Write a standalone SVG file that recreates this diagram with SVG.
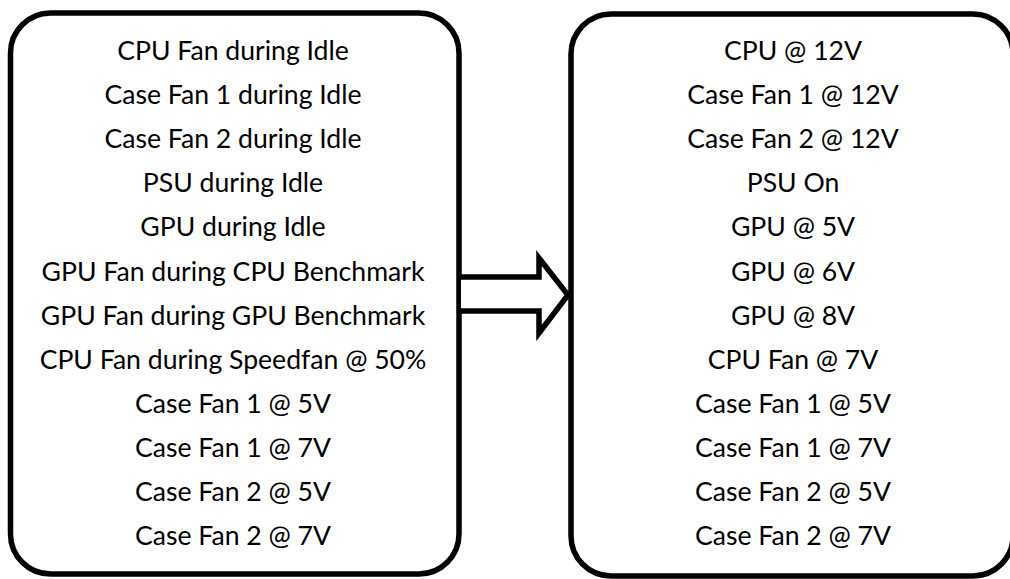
<svg xmlns="http://www.w3.org/2000/svg" width="1010" height="579" viewBox="0 0 1010 579">
  <style>
    .box { fill: #ffffff; stroke: #000000; stroke-width: 5.5; }
    .arrow { fill: #ffffff; stroke: #000000; stroke-width: 5.5; stroke-linejoin: miter; }
    .lbl { font-family: Lato, "Open Sans", "Liberation Sans", sans-serif; font-size: 26.6px; fill: #000000; text-anchor: middle; }
  </style>
  <rect width="1010" height="579" fill="#ffffff"/>

  <!-- measurements taken before the change -->
  <g id="before">
    <rect class="box" x="10.5" y="13" width="448.5" height="561" rx="40" ry="40"/>
    <text class="lbl" x="233" y="60">CPU Fan during Idle</text>
    <text class="lbl" x="233" y="104.1">Case Fan 1 during Idle</text>
    <text class="lbl" x="233" y="148.2">Case Fan 2 during Idle</text>
    <text class="lbl" x="233" y="192.3">PSU during Idle</text>
    <text class="lbl" x="233" y="236.4">GPU during Idle</text>
    <text class="lbl" x="233" y="280.5">GPU Fan during CPU Benchmark</text>
    <text class="lbl" x="233" y="324.6">GPU Fan during GPU Benchmark</text>
    <text class="lbl" x="233" y="368.7">CPU Fan during Speedfan @ 50%</text>
    <text class="lbl" x="233" y="412.8">Case Fan 1 @ 5V</text>
    <text class="lbl" x="233" y="456.9">Case Fan 1 @ 7V</text>
    <text class="lbl" x="233" y="501">Case Fan 2 @ 5V</text>
    <text class="lbl" x="233" y="545.1">Case Fan 2 @ 7V</text>
  </g>

  <!-- measurements taken after the change -->
  <g id="after">
    <rect class="box" x="571" y="14" width="442" height="562" rx="40" ry="40"/>
    <text class="lbl" x="793" y="60">CPU @ 12V</text>
    <text class="lbl" x="793" y="104.1">Case Fan 1 @ 12V</text>
    <text class="lbl" x="793" y="148.2">Case Fan 2 @ 12V</text>
    <text class="lbl" x="793" y="192.3">PSU On</text>
    <text class="lbl" x="793" y="236.4">GPU @ 5V</text>
    <text class="lbl" x="793" y="280.5">GPU @ 6V</text>
    <text class="lbl" x="793" y="324.6">GPU @ 8V</text>
    <text class="lbl" x="793" y="368.7">CPU Fan @ 7V</text>
    <text class="lbl" x="793" y="412.8">Case Fan 1 @ 5V</text>
    <text class="lbl" x="793" y="456.9">Case Fan 1 @ 7V</text>
    <text class="lbl" x="793" y="501">Case Fan 2 @ 5V</text>
    <text class="lbl" x="793" y="545.1">Case Fan 2 @ 7V</text>
  </g>

  <!-- block arrow between the two lists -->
  <g id="connectors">
    <path class="arrow" d="M 461 277 L 539 277 L 539 258 L 568 295 L 539 333 L 539 311 L 461 311"/>
  </g>
</svg>
